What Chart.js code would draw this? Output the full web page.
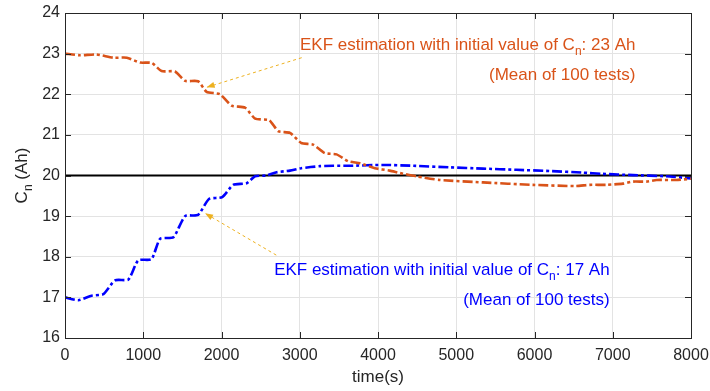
<!DOCTYPE html>
<html>
<head>
<meta charset="utf-8">
<script src="https://cdn.jsdelivr.net/npm/chart.js@4.4.1/dist/chart.umd.min.js"></script>
<style>
  html, body { margin: 0; padding: 0; background: #fff; }
  #wrap { width: 710px; height: 391px; }
</style>
</head>
<body>
<div id="wrap"><canvas id="chart" width="710" height="391"></canvas></div>
<script>
// estimate of Cn starting at 23 Ah (mean of 100 tests)
var timeHigh = [0, 190, 400, 620, 790, 960, 1110, 1235, 1405, 1535, 1700, 1810, 1980, 2130, 2300, 2430, 2610, 2725, 2875, 3020, 3170, 3320, 3470, 3620, 3770, 3960, 4150, 4280, 4490, 4790, 5340, 5980, 6530, 6700, 6920, 7130, 7260, 7430, 7560, 7810, 8000]
var capHigh = [23.0, 22.96, 22.98, 22.9, 22.9, 22.78, 22.77, 22.57, 22.56, 22.33, 22.32, 22.06, 22.0, 21.72, 21.67, 21.4, 21.36, 21.09, 21.05, 20.8, 20.76, 20.55, 20.52, 20.35, 20.3, 20.18, 20.12, 20.06, 19.98, 19.89, 19.83, 19.77, 19.74, 19.77, 19.77, 19.8, 19.85, 19.85, 19.89, 19.89, 19.92]

// estimate of Cn starting at 17 Ah (mean of 100 tests)
var timeLow = [0, 170, 340, 490, 640, 810, 935, 1105, 1215, 1385, 1535, 1700, 1840, 2010, 2150, 2320, 2430, 2575, 2705, 2875, 3020, 3260, 3430, 3640, 4065, 4450, 4920, 5340, 5770, 6190, 6620, 6870, 7260, 7680, 8000]
var capLow = [17.0, 16.93, 17.04, 17.08, 17.42, 17.44, 17.91, 17.94, 18.44, 18.48, 19.0, 19.03, 19.42, 19.47, 19.77, 19.81, 19.98, 20.0, 20.08, 20.12, 20.18, 20.23, 20.24, 20.24, 20.26, 20.24, 20.2, 20.17, 20.14, 20.11, 20.07, 20.04, 20.01, 19.98, 19.93]

var trueCap = 20
var xTicks = [0, 1000, 2000, 3000, 4000, 5000, 6000, 7000, 8000]
var yTicks = [16, 17, 18, 19, 20, 21, 22, 23, 24]

var axisColor = '#262626'
var orange = '#D95319'
var blue = '#0000FF'
var arrowColor = '#EDB120'
var fontFamily = '"Liberation Sans", Arial, Helvetica, sans-serif'

function toPoints(xs, ys) {
    return xs.map(function (x, i) { return { x: x, y: ys[i] } })
}

// text with a subscript n after C, right-aligned
function drawCnText(ctx, before, after, xRight, yBase, size, color) {
    ctx.save()
    ctx.fillStyle = color
    ctx.textBaseline = 'alphabetic'
    ctx.textAlign = 'left'
    ctx.font = size + 'px ' + fontFamily
    var subSize = Math.round(size * 0.72)
    var w1 = ctx.measureText(before).width
    var w3 = ctx.measureText(after).width
    ctx.font = subSize + 'px ' + fontFamily
    var w2 = ctx.measureText('n').width
    var x = xRight - (w1 + w2 + w3)
    ctx.font = size + 'px ' + fontFamily
    ctx.fillText(before, x, yBase)
    ctx.font = subSize + 'px ' + fontFamily
    ctx.fillText('n', x + w1, yBase + size * 0.3)
    ctx.font = size + 'px ' + fontFamily
    ctx.fillText(after, x + w1 + w2, yBase)
    ctx.restore()
}

function drawPlainText(ctx, text, xRight, yBase, size, color) {
    ctx.save()
    ctx.fillStyle = color
    ctx.textBaseline = 'alphabetic'
    ctx.textAlign = 'right'
    ctx.font = size + 'px ' + fontFamily
    ctx.fillText(text, xRight, yBase)
    ctx.restore()
}

function drawArrow(ctx, x0, y0, x1, y1) {
    ctx.save()
    ctx.strokeStyle = arrowColor
    ctx.fillStyle = arrowColor
    ctx.lineWidth = 1
    ctx.setLineDash([3, 3])
    ctx.beginPath()
    ctx.moveTo(x0, y0)
    ctx.lineTo(x1, y1)
    ctx.stroke()
    ctx.setLineDash([])
    var a = Math.atan2(y1 - y0, x1 - x0)
    var len = 8, half = 3
    ctx.beginPath()
    ctx.moveTo(x1, y1)
    ctx.lineTo(x1 - len * Math.cos(a) + half * Math.sin(a), y1 - len * Math.sin(a) - half * Math.cos(a))
    ctx.lineTo(x1 - len * Math.cos(a) - half * Math.sin(a), y1 - len * Math.sin(a) + half * Math.cos(a))
    ctx.closePath()
    ctx.fill()
    ctx.restore()
}

var decorations = {
    id: 'decorations',
    afterDatasetsDraw: function (chart) {
        var ctx = chart.ctx
        var xs = chart.scales.x, ys = chart.scales.y
        var a = chart.chartArea

        // box and inward ticks
        ctx.save()
        ctx.strokeStyle = axisColor
        ctx.lineWidth = 1
        ctx.strokeRect(Math.round(a.left) + 0.5, Math.round(a.top) + 0.5, Math.round(a.right - a.left), Math.round(a.bottom - a.top))
        ctx.beginPath()
        xTicks.forEach(function (t) {
            var px = Math.round(xs.getPixelForValue(t)) + 0.5
            ctx.moveTo(px, a.bottom); ctx.lineTo(px, a.bottom - 6)
            ctx.moveTo(px, a.top); ctx.lineTo(px, a.top + 6)
        })
        yTicks.forEach(function (t) {
            var py = Math.round(ys.getPixelForValue(t)) + 0.5
            ctx.moveTo(a.left, py); ctx.lineTo(a.left + 6, py)
            ctx.moveTo(a.right, py); ctx.lineTo(a.right - 6, py)
        })
        ctx.stroke()
        ctx.restore()

        // arrows
        drawArrow(ctx, xs.getPixelForValue(3025), ys.getPixelForValue(22.9), xs.getPixelForValue(1810), ys.getPixelForValue(22.17))
        drawArrow(ctx, xs.getPixelForValue(2700), ys.getPixelForValue(18.04), xs.getPixelForValue(1790), ys.getPixelForValue(19.07))

        // annotation texts
        var r1 = xs.getPixelForValue(7290)
        drawCnText(ctx, 'EKF estimation with initial value of C', ': 23 Ah', r1, ys.getPixelForValue(23.09), 17, orange)
        drawPlainText(ctx, '(Mean of 100 tests)', r1, ys.getPixelForValue(22.35), 17, orange)
        var r2 = xs.getPixelForValue(6960)
        drawCnText(ctx, 'EKF estimation with initial value of C', ': 17 Ah', r2, ys.getPixelForValue(17.56), 17, blue)
        drawPlainText(ctx, '(Mean of 100 tests)', r2, ys.getPixelForValue(16.82), 17, blue)

        // axis titles
        ctx.save()
        ctx.fillStyle = axisColor
        ctx.font = '17px ' + fontFamily
        ctx.textAlign = 'center'
        ctx.textBaseline = 'middle'
        ctx.fillText('time(s)', (a.left + a.right) / 2, 377)
        ctx.restore()

        ctx.save()
        ctx.translate(27, (a.top + a.bottom) / 2)
        ctx.rotate(-Math.PI / 2)
        ctx.fillStyle = axisColor
        ctx.font = '17px ' + fontFamily
        var wC = ctx.measureText('C').width
        var wRest = ctx.measureText(' (Ah)').width
        ctx.font = '12px ' + fontFamily
        var wN = ctx.measureText('n').width
        var x0 = -(wC + wN + wRest) / 2
        ctx.textBaseline = 'alphabetic'
        ctx.textAlign = 'left'
        ctx.font = '17px ' + fontFamily
        ctx.fillText('C', x0, 0)
        ctx.font = '12px ' + fontFamily
        ctx.fillText('n', x0 + wC, 5)
        ctx.font = '17px ' + fontFamily
        ctx.fillText(' (Ah)', x0 + wC + wN, 0)
        ctx.restore()
    }
}

var ctx = document.getElementById('chart').getContext('2d')
var chart = new Chart(ctx, {
    type: 'line',
    data: {
        datasets: [
            {
                label: 'Initial 23 Ah',
                data: toPoints(timeHigh, capHigh),
                borderColor: orange,
                borderWidth: 2.6,
                borderDash: [10, 3, 3, 3],
                pointRadius: 0,
                tension: 0.2,
                fill: false
            },
            {
                label: 'Initial 17 Ah',
                data: toPoints(timeLow, capLow),
                borderColor: blue,
                borderWidth: 2.6,
                borderDash: [10, 3, 3, 3],
                pointRadius: 0,
                tension: 0.2,
                fill: false
            },
            {
                label: 'True capacity',
                data: [{ x: 0, y: trueCap }, { x: 8000, y: trueCap }],
                borderColor: '#000000',
                borderWidth: 2,
                pointRadius: 0,
                fill: false
            }
        ]
    },
    options: {
        responsive: false,
        animation: false,
        events: [],
        layout: { padding: { top: 13, right: 19, left: 0, bottom: 0 } },
        plugins: {
            legend: { display: false },
            tooltip: { enabled: false }
        },
        scales: {
            x: {
                type: 'linear',
                min: 0,
                max: 8000,
                afterBuildTicks: function (scale) {
                    scale.ticks = xTicks.map(function (v) { return { value: v } })
                },
                afterFit: function (scale) {
                    scale.height = 53
                    scale.paddingLeft = 0
                    scale.paddingRight = 0
                },
                grid: { color: '#e3e3e3', drawTicks: false },
                border: { display: false },
                ticks: {
                    color: axisColor,
                    padding: 8,
                    maxRotation: 0,
                    font: { family: fontFamily, size: 16 },
                    callback: function (v) { return String(v) }
                }
            },
            y: {
                type: 'linear',
                min: 16,
                max: 24,
                afterBuildTicks: function (scale) {
                    scale.ticks = yTicks.map(function (v) { return { value: v } })
                },
                afterFit: function (scale) {
                    scale.width = 65
                    scale.paddingTop = 0
                    scale.paddingBottom = 0
                },
                grid: { color: '#e3e3e3', drawTicks: false },
                border: { display: false },
                ticks: {
                    color: axisColor,
                    padding: 5,
                    font: { family: fontFamily, size: 16 },
                    callback: function (v) { return String(v) }
                }
            }
        }
    },
    plugins: [decorations]
})
</script>
</body>
</html>
